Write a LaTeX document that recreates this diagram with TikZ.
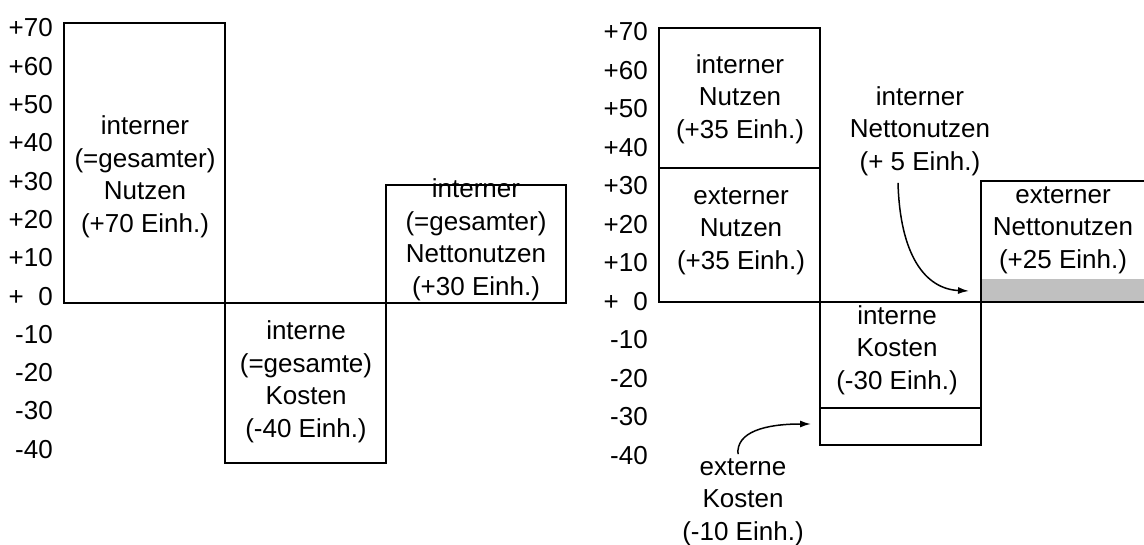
\documentclass[tikz,border=0pt]{standalone}
\usepackage{fontspec}
\setmainfont{Liberation Sans}
\usetikzlibrary{arrows.meta}
\definecolor{bandgray}{RGB}{192,192,192}

\tikzset{
  bar/.style={draw, line width=2pt},
  lbl/.style={align=center, inner sep=0pt, font=\fontsize{26}{32.5}\selectfont},
  tick/.style={anchor=east, inner sep=0pt, font=\fontsize{26}{32.5}\selectfont},
  arr/.style={-{Latex[length=11pt,width=7pt]}, line width=1.5pt},
}

\begin{document}
\begin{tikzpicture}[x=1pt, y=-1pt]
    \useasboundingbox (0,0) rectangle (1144,545);

    % scales
    \foreach \v [count=\i from 0] in {+70,+60,+50,+40,+30,+20,+10,{+\phantom{7}0},-10,-20,-30,-40}
        \node[tick] (tl\i) at (53, 28+38.3*\i) {\v};
    \foreach \v [count=\i from 0] in {+70,+60,+50,+40,+30,+20,+10,{+\phantom{7}0},-10,-20,-30,-40}
        \node[tick] (tr\i) at (648, 32+38.5*\i) {\v};

    % left chart
    \draw[bar] (64,23) rectangle (225,303);
    \draw[bar] (225,303) rectangle (386,463);
    \draw[bar] (386,185) rectangle (566,303);

    \node[lbl] (gesNutzen) at (145,177) {interner\\(=gesamter)\\Nutzen\\(+70 Einh.)};
    \node[lbl] (gesKosten) at (306,382) {interne\\(=gesamte)\\Kosten\\(-40 Einh.)};
    \node[lbl] (gesNetto) at (476,240) {interner\\(=gesamter)\\Nettonutzen\\(+30 Einh.)};

    % right chart
    \draw[bar] (659,28) rectangle (820,302);
    \draw[bar] (659,168) -- (820,168);
    \draw[bar] (820,302) rectangle (981,445);
    \draw[bar] (820,408) -- (981,408);
    \fill[bandgray] (981,279) rectangle (1144,302);
    \draw[line width=1.5pt] (981,302) -- (1144,302);
    \draw[bar] (981,302) -- (981,181) -- (1144,181);

    \node[lbl] (intNutzen) at (740,99) {interner\\Nutzen\\(+35 Einh.)};
    \node[lbl] (extNutzen) at (741,231) {externer\\Nutzen\\(+35 Einh.)};
    \node[lbl] (intNetto) at (920,131) {interner\\Nettonutzen\\(+ 5 Einh.)};
    \node[lbl] (extNetto) at (1063,230) {externer\\Nettonutzen\\(+25 Einh.)};
    \node[lbl] (intKosten) at (897,350) {interne\\Kosten\\(-30 Einh.)};
    \node[lbl] (extKosten) at (743,502) {externe\\Kosten\\(-10 Einh.)};

    % arrows
    \coordinate (bandtip) at (969,291);
    \coordinate (kostentip) at (811,424);
    \draw[arr] ([xshift=-22pt,yshift=-7pt]intNetto.south) .. controls (900,255) and (925,289) .. (bandtip);
    \draw[arr] ([xshift=-5pt,yshift=4pt]extKosten.north) .. controls (736,432) and (765,424) .. (kostentip);
\end{tikzpicture}
\end{document}
